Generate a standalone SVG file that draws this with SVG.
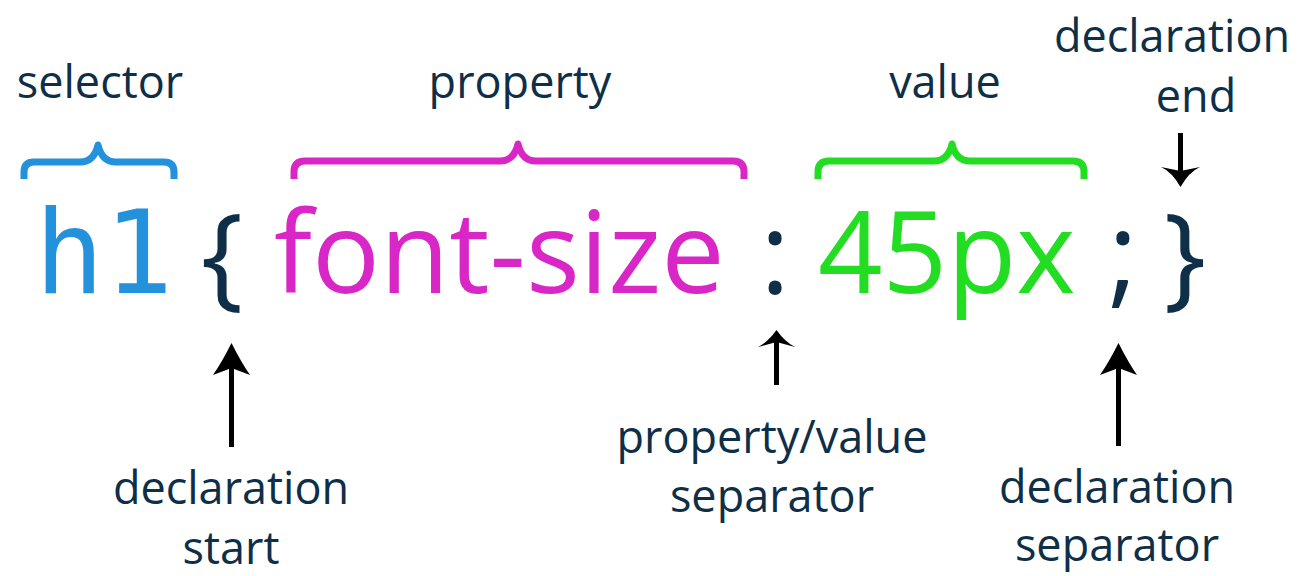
<svg xmlns="http://www.w3.org/2000/svg" width="1314" height="576" viewBox="0 0 1314 576">
<style>
.lbl{font-family:"Open Sans","Noto Sans",sans-serif;font-size:45px;fill:#0e2f47;text-anchor:middle}
.big{font-family:"Open Sans","Noto Sans",sans-serif;font-size:113px}
.brace{fill:none;stroke-width:7;stroke-linecap:butt;stroke-linejoin:round}
.arr{fill:#000}
</style>
<rect width="1314" height="576" fill="#fff"/>
<g id="selector">
<text class="lbl" x="100" y="98">selector</text>
<path class="brace" stroke="#2391db" d="M24,179 V172 Q24,162 34,162 H80 Q94,162 98,145 Q102,162 116,162 H164 Q174,162 174,172 V179"/>
<text x="104" y="293" font-family="DejaVu Sans Mono,Liberation Mono,monospace" font-size="115" fill="#2391db" text-anchor="middle">h1</text>
</g>
<g id="open-brace">
<text class="big" x="222" y="295" fill="#0e2f47" text-anchor="middle">{</text>
</g>
<g id="property">
<text class="lbl" x="520" y="98">property</text>
<path class="brace" stroke="#d926c6" d="M294,179 V172 Q294,161 305,161 H500 Q514,161 518,144 Q522,161 536,161 H733 Q744,161 744,172 V179"/>
<text class="big" x="274" y="293" fill="#d926c6">font-size</text>
</g>
<g id="colon">
<text class="big" x="775" y="293" fill="#0e2f47" text-anchor="middle">:</text>
</g>
<g id="value">
<text class="lbl" x="945" y="98">value</text>
<path class="brace" stroke="#22dd22" d="M818,179 V172 Q818,161 829,161 H934 Q948,161 952,144 Q956,161 970,161 H1073 Q1084,161 1084,172 V179"/>
<text class="big" x="818" y="293" fill="#22dd22">45px</text>
</g>
<g id="semicolon">
<text class="big" x="1123" y="293" fill="#0e2f47" text-anchor="middle">;</text>
</g>
<g id="close-brace">
<text class="big" x="1185" y="295" fill="#0e2f47" text-anchor="middle">}</text>
</g>
<g id="declaration-end">
<text class="lbl" x="1172" y="52">declaration</text>
<text class="lbl" x="1196" y="112">end</text>
</g>
<g id="declaration-start">
<text class="lbl" x="231" y="504">declaration</text>
<text class="lbl" x="231" y="564">start</text>
</g>
<g id="pv-separator">
<text class="lbl" x="772" y="453">property/value</text>
<text class="lbl" x="772" y="512">separator</text>
</g>
<g id="declaration-separator">
<text class="lbl" x="1117" y="503">declaration</text>
<text class="lbl" x="1117" y="561">separator</text>
</g>
<g id="connectors">
<rect class="arr" x="1178" y="133" width="5" height="40"/>
<path class="arr" d="M1180.5,187 Q1172,172 1161,167 L1180.5,171 L1200,167 Q1189,172 1180.5,187 Z"/>
<rect class="arr" x="229" y="365" width="5" height="82"/>
<path class="arr" d="M231.5,343 Q241,362 250,375 L231.5,368 L213,375 Q222,362 231.5,343 Z"/>
<rect class="arr" x="774" y="342" width="5" height="43"/>
<path class="arr" d="M776.5,330 Q785,342 795,347 L776.5,342 L758,347 Q768,342 776.5,330 Z"/>
<rect class="arr" x="1116" y="365" width="5" height="81"/>
<path class="arr" d="M1118.5,343 Q1128,362 1137,375 L1118.5,368 L1100,375 Q1109,362 1118.5,343 Z"/>
</g>
</svg>
